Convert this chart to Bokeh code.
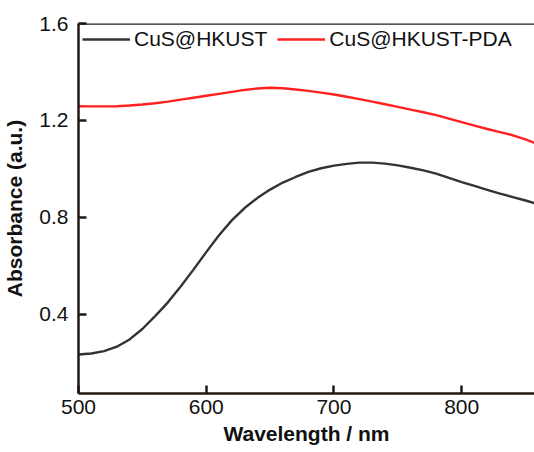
from bokeh.plotting import figure
from bokeh.models import Range1d, Span, Legend, LegendItem, FixedTicker
from bokeh.embed import file_html
from bokeh.resources import INLINE

wl_hkust = [500, 510, 520, 530, 540, 550, 560, 570, 580, 590, 600, 610, 620, 630, 640,
            650, 660, 670, 680, 690, 700, 710, 720, 730, 740, 750, 760, 770, 780, 790,
            800, 810, 820, 830, 840, 850, 858]
abs_hkust = [0.235, 0.239, 0.249, 0.267, 0.297, 0.340, 0.393, 0.450, 0.515, 0.585, 0.657,
             0.727, 0.788, 0.839, 0.880, 0.915, 0.944, 0.967, 0.988, 1.003, 1.014, 1.021,
             1.026, 1.026, 1.022, 1.015, 1.005, 0.994, 0.981, 0.963, 0.946, 0.930, 0.914,
             0.898, 0.884, 0.870, 0.857]

wl_pda = [500, 510, 520, 530, 540, 550, 560, 570, 580, 590, 600, 610, 620, 630, 640,
          650, 660, 670, 680, 690, 700, 710, 720, 730, 740, 750, 760, 770, 780, 790,
          800, 810, 820, 830, 840, 850, 858]
abs_pda = [1.259, 1.258, 1.258, 1.259, 1.262, 1.266, 1.271, 1.278, 1.286, 1.294, 1.302,
           1.310, 1.318, 1.326, 1.332, 1.335, 1.333, 1.328, 1.322, 1.315, 1.307, 1.298,
           1.288, 1.278, 1.267, 1.256, 1.245, 1.234, 1.222, 1.208, 1.193, 1.179, 1.165,
           1.152, 1.139, 1.122, 1.105]

x_ticks = [500, 600, 700, 800]
y_ticks = [0.4, 0.8, 1.2, 1.6]
series_names = ["CuS@HKUST", "CuS@HKUST-PDA"]

FONT = "Liberation Sans"
AXIS_COLOR = "#231815"
TEXT_COLOR = "#111111"

p = figure(width=534, height=452, output_backend="svg", toolbar_location=None,
           x_range=Range1d(500, 857), y_range=Range1d(0.074, 1.6),
           min_border_left=77, min_border_right=0, min_border_top=23, min_border_bottom=59)
p.outline_line_color = None
p.grid.visible = False
p.background_fill_color = "white"
p.border_fill_color = "white"

r1 = p.line(wl_hkust, abs_hkust, line_color="#333333", line_width=2.4)
r2 = p.line(wl_pda, abs_pda, line_color="#ff2020", line_width=2.4)

p.add_layout(Span(location=1.6, dimension="width", line_color=AXIS_COLOR, line_width=2.5))

for ax in (p.xaxis[0], p.yaxis[0]):
    ax.axis_line_color = AXIS_COLOR
    ax.axis_line_width = 2.5
    ax.major_tick_line_color = AXIS_COLOR
    ax.major_tick_line_width = 2.5
    ax.major_tick_in = 8
    ax.major_tick_out = 0
    ax.minor_tick_line_color = None
    ax.major_label_text_font = FONT
    ax.major_label_text_font_size = "21px"
    ax.major_label_text_color = TEXT_COLOR
    ax.axis_label_text_font = FONT
    ax.axis_label_text_font_style = "bold"
    ax.axis_label_text_font_size = "21px"
    ax.axis_label_text_color = TEXT_COLOR

p.xaxis.ticker = FixedTicker(ticks=x_ticks)
p.yaxis.ticker = FixedTicker(ticks=y_ticks)
p.xaxis.major_label_standoff = 6
p.yaxis.major_label_standoff = 10
p.xaxis.axis_label = "Wavelength / nm"
p.yaxis.axis_label = "Absorbance (a.u.)"
p.xaxis.axis_label_standoff = 5
p.yaxis.axis_label_standoff = 10

legend = Legend(items=[LegendItem(label=series_names[0], renderers=[r1]),
                       LegendItem(label=series_names[1], renderers=[r2])],
                orientation="horizontal", location="top_left",
                border_line_color=None, background_fill_alpha=0,
                label_text_font=FONT, label_text_font_size="21px",
                label_text_color=TEXT_COLOR,
                glyph_width=48, glyph_height=24, spacing=10, label_standoff=4,
                margin=4, padding=2)
p.add_layout(legend)

open("out.html", "w").write(file_html(p, INLINE))
